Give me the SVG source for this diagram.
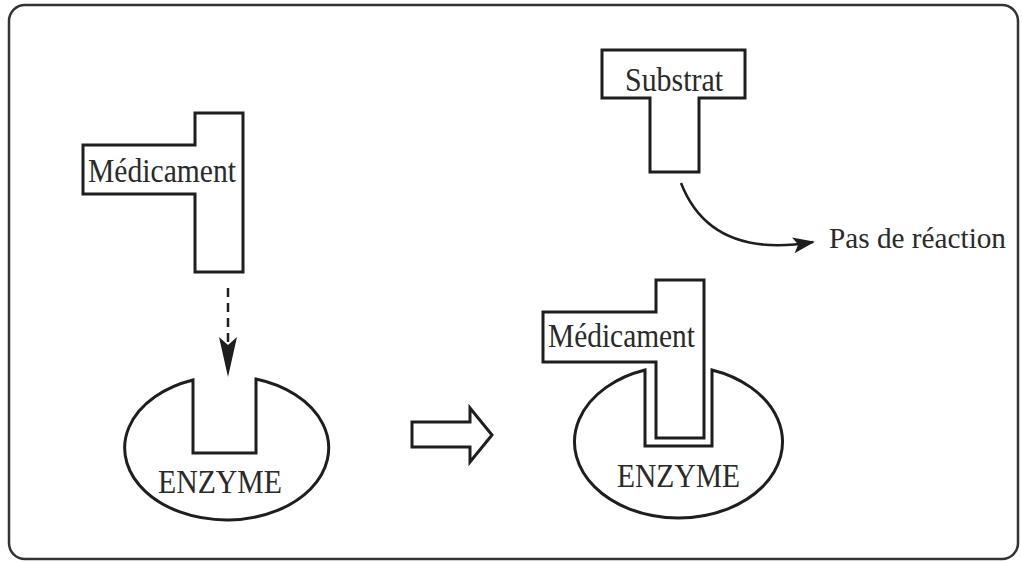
<svg xmlns="http://www.w3.org/2000/svg" width="1022" height="562" viewBox="0 0 1022 562">
<defs>
<style>
.shape{fill:#fff;stroke:#1e1e1e;stroke-width:3;stroke-linejoin:miter}
.lbl{font-family:"Liberation Serif","Times New Roman",serif;font-size:33px;fill:#2a2a2a}
.conn{fill:none;stroke:#1e1e1e;stroke-width:2.5}
</style>
<marker id="ah" viewBox="0 0 22 16" refX="20" refY="8" markerWidth="22" markerHeight="16" markerUnits="userSpaceOnUse" orient="auto">
<path d="M0,0 L22,8 L0,16 L5,8 Z" fill="#1e1e1e"/>
</marker>
</defs>
<rect x="0" y="0" width="1022" height="562" fill="#fff"/>
<rect x="9" y="5" width="1009" height="554" rx="16" fill="none" stroke="#333" stroke-width="2.5"/>

<g id="enzyme-left">
<path class="shape" d="M193,380 V453 H256 V379 A102,72 0 1 1 193,380 Z"/>
<text class="lbl" x="158" y="493" textLength="124" lengthAdjust="spacingAndGlyphs">ENZYME</text>
</g>

<g id="medicament-left">
<path class="shape" d="M195,113 H243 V272 H195 V194 H83 V145 H195 Z"/>
<text class="lbl" x="88" y="182" textLength="148" lengthAdjust="spacingAndGlyphs">Médicament</text>
</g>

<g id="enzyme-right">
<path class="shape" d="M645,370 V446 H712 V370 A104,76 0 1 1 645,370 Z"/>
<text class="lbl" x="617" y="487" textLength="123" lengthAdjust="spacingAndGlyphs">ENZYME</text>
</g>

<g id="medicament-right">
<path class="shape" d="M656,280 H704 V438 H656 V362 H543 V312 H656 Z"/>
<text class="lbl" x="548" y="347" textLength="147" lengthAdjust="spacingAndGlyphs">Médicament</text>
</g>

<g id="substrat">
<path class="shape" d="M602,50 H745 V98 H699 V172 H650 V98 H602 Z"/>
<text class="lbl" x="625" y="91" textLength="98" lengthAdjust="spacingAndGlyphs">Substrat</text>
</g>

<g id="pas-de-reaction">
<text class="lbl" style="font-size:30px" x="829" y="248" textLength="177" lengthAdjust="spacingAndGlyphs">Pas de réaction</text>
</g>

<g id="connectors">
<path class="conn" d="M228,288 V350" stroke-dasharray="9,6"/>
<path d="M228,377 L219,337 L228,345 L237,337 Z" fill="#1e1e1e"/>
<path class="conn" d="M681,183 C700,232 742,254 813,242" marker-end="url(#ah)"/>
<polygon class="shape" stroke-width="2.5" points="412,422 470,422 470,408 492,435 470,462 470,447 412,447"/>
</g>
</svg>
